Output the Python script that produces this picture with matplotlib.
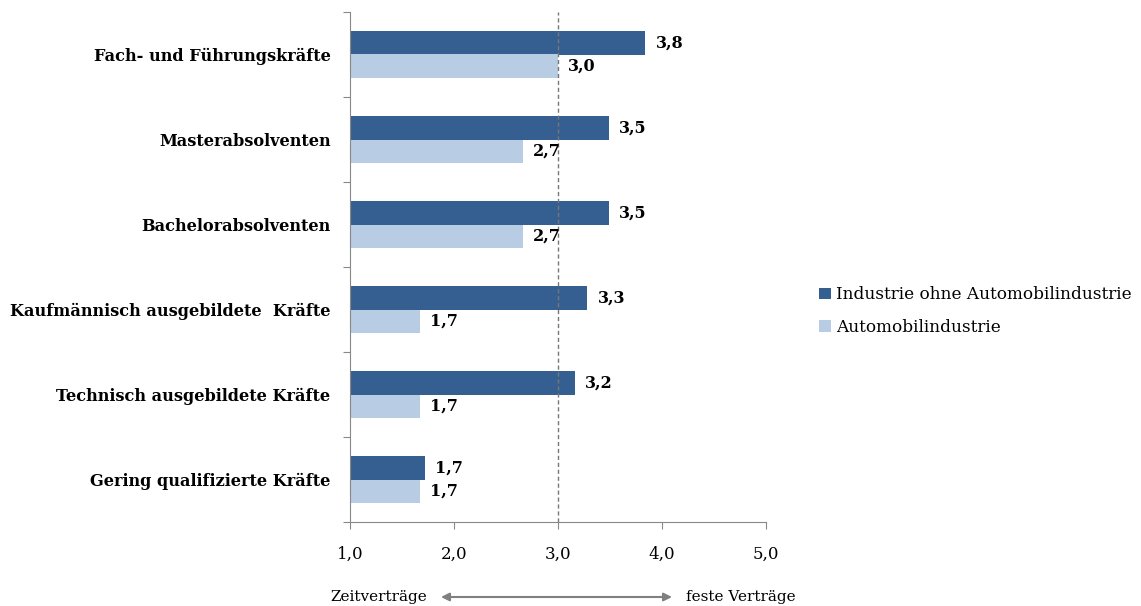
import matplotlib.pyplot as plt
import numpy as np

# Daten (von oben nach unten)
kategorien = ["Fach- und Führungskräfte", "Masterabsolventen", "Bachelorabsolventen",
              "Kaufmännisch ausgebildete  Kräfte", "Technisch ausgebildete Kräfte",
              "Gering qualifizierte Kräfte"]
industrie = [3.84, 3.49, 3.49, 3.28, 3.16, 1.72]
auto = [3.0, 2.66, 2.66, 1.67, 1.67, 1.67]
ind_labels = ["3,8", "3,5", "3,5", "3,3", "3,2", "1,7"]
auto_labels = ["3,0", "2,7", "2,7", "1,7", "1,7", "1,7"]
xticks = [1.0, 2.0, 3.0, 4.0, 5.0]
xticklabels = ["1,0", "2,0", "3,0", "4,0", "5,0"]

dunkel = "#365F91"
hell = "#B8CCE4"
plt.rcParams['font.family'] = ['DejaVu Serif']

fig = plt.figure(figsize=(11.41, 6.06), dpi=100)
ax = fig.add_axes([350/1141, 1-522/606, 416/1141, 510/606])

n = len(kategorien)
y = np.arange(n)[::-1]
h = 0.28
ax.barh(y + h/2, np.array(industrie) - 1, left=1, height=h, color=dunkel,
        label="Industrie ohne Automobilindustrie")
ax.barh(y - h/2, np.array(auto) - 1, left=1, height=h, color=hell,
        label="Automobilindustrie")

for yi, v, t in zip(y, industrie, ind_labels):
    ax.text(v + 0.1, yi + h/2, t, va="center", ha="left", fontsize=11.5, fontweight="bold")
for yi, v, t in zip(y, auto, auto_labels):
    ax.text(v + 0.1, yi - h/2, t, va="center", ha="left", fontsize=11.5, fontweight="bold")

ax.axvline(3.0, color="#777777", linestyle=(0, (3, 2)), linewidth=1)

ax.set_xlim(1, 5)
ax.set_ylim(-0.5, n - 0.5)
ax.set_xticks(xticks)
ax.set_xticklabels(xticklabels, fontsize=12)
ax.set_yticks(np.arange(-0.5, n, 1.0))
ax.set_yticklabels([])
ax.set_yticks(y, minor=True)
ax.set_yticklabels(kategorien, minor=True, fontsize=11.6, fontweight="bold")
ax.tick_params(axis="y", which="minor", length=0, pad=14)
ax.tick_params(axis="y", which="major", length=5, color="#888888")
ax.tick_params(axis="x", length=5, color="#888888", pad=12)
for s in ["top", "right"]:
    ax.spines[s].set_visible(False)
for s in ["left", "bottom"]:
    ax.spines[s].set_color("#888888")

leg = ax.legend(loc="center left", bbox_to_anchor=(812/1141, 1-311/606),
                bbox_transform=fig.transFigure, frameon=False, borderaxespad=0,
                fontsize=12.2, handlelength=0.7, handleheight=0.7, handletextpad=0.3,
                labelspacing=0.9)

fig.text(330/1141, 1-597/606, "Zeitverträge", fontsize=11, va="center", ha="left")
fig.text(686/1141, 1-597/606, "feste Verträge", fontsize=11, va="center", ha="left")
ax.annotate("", xy=(672/1141, 1-597/606), xytext=(441/1141, 1-597/606),
            xycoords="figure fraction", textcoords="figure fraction",
            arrowprops=dict(arrowstyle="<|-|>", color="#808080", lw=1.5,
                            mutation_scale=12, shrinkA=0, shrinkB=0))

fig.savefig("out.png", dpi=100)
